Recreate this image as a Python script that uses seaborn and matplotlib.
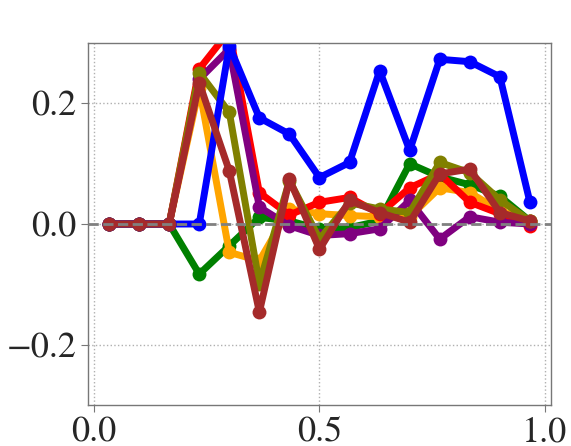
import numpy as np
import pandas as pd
import matplotlib
matplotlib.use("Agg")
import matplotlib.pyplot as plt
import seaborn as sns

# positions des points (centres de 15 intervalles)
x_vals = [(i + 0.5) / 15 for i in range(15)]

# valeurs
green = [0, 0, 0, -0.083, -0.036, 0.011, 0.005, -0.008, -0.006, 0.005, 0.100, 0.078, 0.065, 0.046, 0.005]
orange = [0, 0, 0, 0.225, -0.047, -0.061, 0.025, 0.017, 0.014, 0.012, 0.012, 0.060, 0.052, 0.022, 0.005]
red = [0, 0, 0, 0.257, 0.320, 0.052, 0.015, 0.036, 0.044, 0.017, 0.060, 0.083, 0.036, 0.017, -0.003]
purple = [0, 0, 0, 0.240, 0.290, 0.028, -0.003, -0.019, -0.016, -0.008, 0.039, -0.025, 0.012, 0.003, 0.000]
olive = [0, 0, 0, 0.251, 0.185, -0.099, 0.072, -0.025, 0.035, 0.025, 0.019, 0.102, 0.085, 0.040, 0.005]
blue = [0, 0, 0, 0, 0.295, 0.176, 0.149, 0.077, 0.102, 0.254, 0.122, 0.273, 0.269, 0.244, 0.036]
brown = [0, 0, 0, 0.234, 0.088, -0.146, 0.074, -0.042, 0.039, 0.019, 0.003, 0.083, 0.091, 0.019, 0.005]

series = {"green": green, "orange": orange, "red": red, "purple": purple,
          "olive": olive, "blue": blue, "brown": brown}

df = pd.concat([pd.DataFrame({"x": x_vals, "y": v, "serie": k}) for k, v in series.items()],
               ignore_index=True)

sns.set_style("white")
plt.rcParams["font.family"] = ["STIXGeneral", "DejaVu Serif"]

fig = plt.figure(figsize=(5.71, 4.46), dpi=100)
ax = fig.add_axes([88 / 571, 1 - 405 / 446, (551 - 88) / 571, (405 - 43) / 446])

sns.lineplot(data=df, x="x", y="y", hue="serie", hue_order=list(series.keys()),
             palette={k: k for k in series}, marker="o", markersize=10,
             markeredgewidth=0, linewidth=5, legend=False, ax=ax)

ax.axhline(0, color="gray", linestyle="--", linewidth=2, zorder=10)

ax.set_ylim(-0.3, 0.3)
ax.set_xticks([0.0, 0.5, 1.0])
ax.set_yticks([-0.2, 0.0, 0.2])
ax.set_xlabel("")
ax.set_ylabel("")
ax.grid(True, linestyle=":", color="#b0b0b0", linewidth=1)
for s in ax.spines.values():
    s.set_color("#777777")
    s.set_linewidth(1)
ax.tick_params(axis="both", labelsize=26, direction="out", length=5, color="#777777",
               left=True, bottom=True)

fig.savefig("out.png", dpi=100)
